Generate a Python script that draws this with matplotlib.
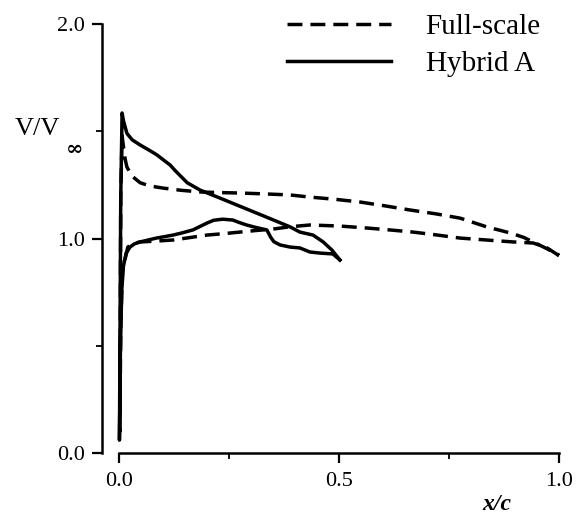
import matplotlib
matplotlib.use("Agg")
import matplotlib.pyplot as plt
from matplotlib.ticker import MultipleLocator

plt.rcParams["font.family"] = ["Liberation Serif", "DejaVu Serif"]

# Full-scale: lower surface (TE -> LE), stagnation, upper surface (LE -> TE)
full_x = [1.0, 0.97, 0.941, 0.895, 0.835, 0.775, 0.72, 0.668, 0.615, 0.563,
          0.502, 0.434, 0.39, 0.35, 0.31, 0.275, 0.24, 0.2, 0.16, 0.123,
          0.085, 0.048, 0.03, 0.02, 0.008, 0.004, 0.002, 0.004, 0.007,
          0.01, 0.014, 0.018, 0.03, 0.048, 0.07, 0.1, 0.14, 0.184, 0.23,
          0.275, 0.33, 0.389, 0.434, 0.49, 0.548, 0.605, 0.661, 0.72, 0.775,
          0.836, 0.889, 0.92, 0.941, 0.97, 1.0]
full_y = [0.92, 0.96, 0.979, 0.984, 0.993, 1.002, 1.017, 1.03, 1.04, 1.049,
          1.058, 1.063, 1.055, 1.044, 1.037, 1.03, 1.023, 1.016, 1.004, 0.993,
          0.988, 0.984, 0.975, 0.96, 0.85, 0.6, 0.1, 1.2, 1.48,
          1.43, 1.37, 1.333, 1.29, 1.26, 1.245, 1.235, 1.225, 1.217, 1.214,
          1.212, 1.208, 1.203, 1.193, 1.183, 1.17, 1.152, 1.133, 1.115, 1.095,
          1.054, 1.026, 1.005, 0.984, 0.955, 0.923]

# Hybrid A: lower surface (TE -> LE), stagnation, upper surface (LE -> TE)
hyb_x = [0.502, 0.486, 0.457, 0.434, 0.411, 0.389, 0.366, 0.352, 0.345,
         0.336, 0.31, 0.29, 0.27, 0.259, 0.236, 0.215, 0.2, 0.183, 0.168,
         0.145, 0.123, 0.085, 0.048, 0.035, 0.025, 0.016, 0.01, 0.006,
         0.003, 0.001, 0.004, 0.007, 0.01, 0.014, 0.018, 0.03, 0.048, 0.07,
         0.086, 0.105, 0.116, 0.127, 0.155, 0.184, 0.23, 0.28, 0.33, 0.389,
         0.411, 0.441, 0.464, 0.484, 0.502]
hyb_y = [0.90, 0.928, 0.932, 0.937, 0.956, 0.96, 0.97, 0.985, 1.005,
         1.04, 1.052, 1.063, 1.077, 1.086, 1.09, 1.085, 1.072, 1.055, 1.04,
         1.027, 1.016, 1.002, 0.984, 0.975, 0.96, 0.93, 0.87, 0.75,
         0.45, 0.06, 1.2, 1.585, 1.55, 1.52, 1.49, 1.46, 1.436, 1.41,
         1.39, 1.36, 1.343, 1.318, 1.26, 1.226, 1.188, 1.146, 1.104, 1.054,
         1.03, 1.016, 0.984, 0.946, 0.90]

fig = plt.figure(figsize=(5.83, 5.19), dpi=100)
W, H = 583, 519
x0px, x1px = 119, 559          # pixel columns of x/c = 0 and 1
left_px, right_px = 102, 572
xmin = (left_px - x0px) / (x1px - x0px)
xmax = (right_px - x0px) / (x1px - x0px)
ax = fig.add_axes([left_px / W, 1 - 453 / H, (right_px - left_px) / W, (453 - 24) / H])

ax.plot(full_x, full_y, color="black", lw=2.5, dashes=(4.3, 2.3),
        solid_joinstyle="round", dash_joinstyle="round", label="Full-scale")
ax.plot(hyb_x, hyb_y, color="black", lw=2.5, solid_joinstyle="round",
        label="Hybrid A")

ax.set_xlim(xmin, xmax)
ax.set_ylim(0, 2.0)
ax.spines[["top", "right"]].set_visible(False)
ax.spines["bottom"].set_bounds(0, 1)
ax.spines["left"].set_bounds(0, 2)
for s in ("left", "bottom"):
    ax.spines[s].set_linewidth(1.8)

ax.xaxis.set_minor_locator(MultipleLocator(0.25))
ax.yaxis.set_minor_locator(MultipleLocator(0.5))
ax.set_xticks([0.0, 0.5, 1.0], ["0.0", "0.5", "1.0"])
ax.set_yticks([0.0, 1.0, 2.0], ["0.0", "1.0", "2.0"])
ax.tick_params(which="major", length=7, width=1.6, labelsize=16)
ax.tick_params(axis="x", which="major", pad=7)
ax.tick_params(axis="y", which="major", pad=5)
ax.tick_params(which="minor", length=4, width=1.3)

# y label: V/V with a low bold infinity subscript
fig.text(15 / W, 1 - 129 / H, "V/V", fontsize=19, va="center", ha="left")
fig.text(75 / W, 1 - 149 / H, "\u221e", fontsize=15, weight="bold",
         family="DejaVu Serif", va="center", ha="center")
fig.text(497 / W, 1 - 505 / H, "x/c", fontsize=17, style="italic", weight="bold",
         ha="center", va="center")

ax.legend(loc="upper left", bbox_to_anchor=(287 / W, 1 - 14 / H),
          bbox_transform=fig.transFigure, frameon=False, fontsize=21,
          handlelength=3.55, handletextpad=1.2, labelspacing=0.35,
          borderpad=0.0, borderaxespad=0.0)

fig.savefig("out.png", dpi=100)
